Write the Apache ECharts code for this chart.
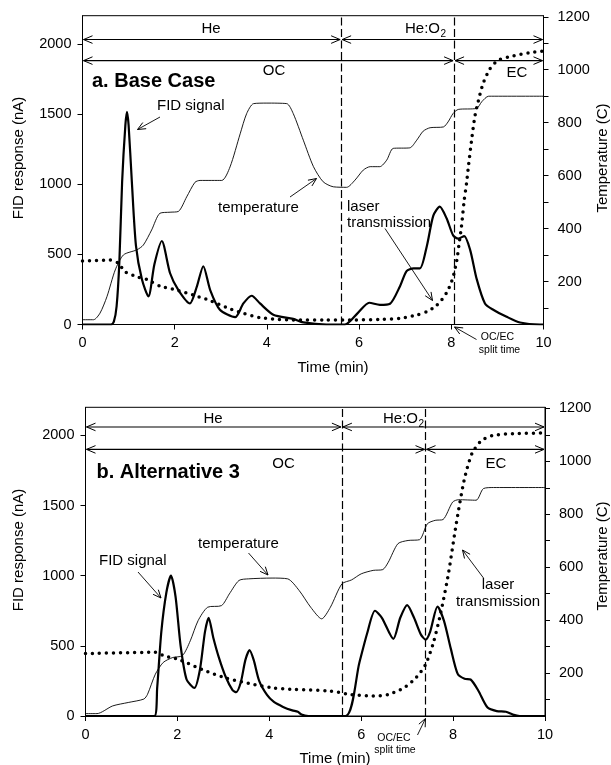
<!DOCTYPE html>
<html><head><meta charset="utf-8">
<script src="https://cdn.jsdelivr.net/npm/echarts@6/dist/echarts.min.js"></script>
<style>html,body{margin:0;padding:0;background:#fff;}#c{width:611px;height:765px;}</style>
</head><body><div id="c"></div>
<script>
// ---------- DATA ----------
const xTicks = [0, 2, 4, 6, 8, 10];
const fidTicks = [0, 500, 1000, 1500, 2000];
const tempTicks = [100, 200, 300, 400, 500, 600, 700, 800, 900, 1000, 1100, 1200];
const tempLabels = [200, 400, 600, 800, 1000, 1200];

// Panel a. Base Case
const fidTimeA = [0,0.62,0.68,0.74,0.80,0.86,0.93,0.965,1.0,1.07,1.16,1.29,1.43,1.56,1.72,1.90,2.08,2.33,2.48,2.62,2.77,2.98,3.31,3.49,3.67,3.85,4.14,4.57,4.79,5.29,5.69,5.98,6.22,6.45,6.67,6.89,7.03,7.18,7.32,7.47,7.61,7.75,7.90,8.04,8.15,8.28,8.41,8.55,8.73,8.91,9.20,9.49,9.92,10];
const fidValA  = [0,0,20,130,450,1020,1420,1515,1420,1020,560,320,200,430,595,365,245,150,270,415,245,105,52,150,205,150,70,40,15,0,0,85,155,140,148,275,380,400,400,560,775,840,755,635,612,630,530,325,150,105,55,14,0,0];
const tempTimeA = [0,0.24,0.38,0.53,0.71,0.89,1.18,1.32,1.50,1.68,1.90,2.08,2.26,2.44,2.55,3.02,3.20,3.42,3.56,3.71,4.0,4.43,4.57,4.79,5.01,5.22,5.44,5.73,5.91,6.09,6.24,6.45,6.60,6.74,7.10,7.25,7.39,7.54,7.83,7.93,8.04,8.15,8.55,8.66,8.81,10];
const tempValA  = [56,56,81,143,244,301,320,338,395,458,462,465,520,575,582,582,633,758,834,872,874,872,835,734,634,577,558,556,583,621,634,634,659,703,705,734,768,781,784,803,835,850,854,879,900,900];
const laserTimeA = [0,0.6,0.78,0.92,1.18,1.39,1.68,2.04,2.40,2.77,3.13,3.49,3.85,4.21,4.57,5.29,5.80,6.52,6.89,7.25,7.47,7.65,7.79,7.93,8.04,8.12,8.17,8.22,8.28,8.33,8.37,8.44,8.51,8.59,8.69,8.84,9.02,9.35,9.71,10];
const laserValA  = [452,459,436,376,340,322,274,246,210,170,120,80,49,37,32,32,32,37,44,68,91,127,174,246,340,459,578,697,886,1005,1123,1313,1479,1598,1717,1823,1883,1913,1937,1949];
const splitA = [5.61, 8.06];
const arrowLevelsA = [2030, 1880];

// Panel b. Alternative 3
const fidTimeB = [0,1.5,1.56,1.65,1.76,1.86,1.96,2.07,2.20,2.37,2.49,2.60,2.68,2.78,2.90,3.05,3.20,3.28,3.38,3.48,3.57,3.66,3.78,3.95,4.10,4.30,4.50,4.62,4.70,4.85,5.66,5.96,6.13,6.30,6.45,6.70,6.85,7.00,7.15,7.30,7.40,7.50,7.66,7.80,7.95,8.10,8.25,8.38,8.55,8.75,8.95,9.15,9.30,9.45,10];
const fidValB  = [0,0,200,600,880,1000,850,500,260,200,330,600,700,560,420,280,185,170,240,400,470,400,250,150,100,65,40,30,10,0,0,380,590,750,700,550,700,790,700,580,545,600,780,680,480,300,265,260,180,60,35,30,10,0,0];
const tempTimeB = [0,0.25,0.59,0.93,1.27,1.35,1.52,1.69,1.90,2.11,2.28,2.45,2.66,2.96,3.13,3.34,3.55,4.06,4.40,4.65,4.90,5.14,5.33,5.58,5.79,6.00,6.26,6.47,6.59,6.80,7.02,7.27,7.44,7.61,7.78,7.99,8.12,8.50,8.66,8.88,10];
const tempValB  = [47,47,76,89,102,120,196,240,259,266,322,398,449,455,499,550,556,559,556,512,449,405,449,537,552,575,588,591,619,689,701,704,764,777,780,846,855,853,897,901,901];
const laserTimeB = [0,1.52,1.69,2.03,2.54,3.04,3.55,4.06,4.56,5.33,5.75,6.26,6.59,6.93,7.19,7.40,7.57,7.73,7.90,8.07,8.24,8.41,8.62,8.88,9.30,10];
const laserValB  = [445,454,431,402,331,272,232,201,189,178,154,142,154,201,272,367,521,734,1018,1373,1680,1870,1964,2000,2012,2017];
const splitB = [5.58, 7.40];
const arrowLevelsB = [2060, 1900];

// ---------- CHART ----------
const FONT = '"Liberation Sans", Arial, sans-serif';
const zip = (a, b) => a.map((v, i) => [v, b[i]]);
const chart = echarts.init(document.getElementById('c'), null, {renderer: 'canvas'});

const grids = [
  {left: 82.5, top: 15.7, width: 461, height: 308.8},
  {left: 85.5, top: 407.3, width: 459.5, height: 308.7}
];
const plain = v => String(v);

function xAx(gi) {
  return {type: 'value', gridIndex: gi, min: 0, max: 10,
    axisLine: {lineStyle: {color: '#000', width: 1}},
    axisTick: {length: 5, customValues: xTicks, lineStyle: {color: '#000'}},
    axisLabel: {color: '#000', fontSize: 14.5, fontFamily: FONT, margin: 11, customValues: xTicks, formatter: plain},
    splitLine: {show: false}};
}
function yLeft(gi) {
  return {type: 'value', gridIndex: gi, position: 'left', min: 0, max: 2200,
    axisLine: {show: true, lineStyle: {color: '#000', width: 1}},
    axisTick: {show: true, length: 5, customValues: fidTicks, lineStyle: {color: '#000'}},
    axisLabel: {color: '#000', fontSize: 14.5, fontFamily: FONT, margin: 11, customValues: fidTicks, formatter: plain},
    splitLine: {show: false}};
}
function yRight(gi) {
  return {type: 'value', gridIndex: gi, position: 'right', min: 38, max: 1204,
    axisLine: {show: true, lineStyle: {color: '#000', width: 1}},
    axisTick: {show: true, length: 5, customValues: tempTicks, lineStyle: {color: '#000'}},
    axisLabel: {color: '#000', fontSize: 14.5, fontFamily: FONT, margin: 14, customValues: tempLabels, formatter: plain},
    splitLine: {show: false}};
}

function splitMark(splits) {
  return {symbol: 'none', silent: true, animation: false, label: {show: false},
    lineStyle: {type: [8, 3.5], color: '#000', width: 1.2},
    data: splits.map(s => ({xAxis: s}))};
}

function fidSeries(gi, yi, t, v, splits) {
  return {type: 'line', xAxisIndex: gi, yAxisIndex: yi, data: zip(t, v), showSymbol: false,
    smooth: 0.25, lineStyle: {color: '#000', width: 2.2}, z: 4,
    markLine: splitMark(splits)};
}
function tempSeries(gi, yi, t, v) {
  return {type: 'line', xAxisIndex: gi, yAxisIndex: yi, data: zip(t, v), showSymbol: false,
    smooth: 0.25, lineStyle: {color: '#000', width: 0.9}, z: 3};
}
function laserSeries(gi, yi, t, v) {
  return {type: 'line', xAxisIndex: gi, yAxisIndex: yi, data: zip(t, v), showSymbol: false,
    smooth: 0.25, lineStyle: {color: '#000', width: 3.5, type: [0, 7], cap: 'round'}, z: 3};
}

chart.setOption({
  animation: false,
  backgroundColor: '#fff',
  grid: grids.map(g => Object.assign({show: true, borderColor: '#000', borderWidth: 1, containLabel: false, outerBoundsMode: 'none'}, g)),
  xAxis: [xAx(0), xAx(1)],
  yAxis: [yLeft(0), yRight(0), yLeft(1), yRight(1)],
  series: [
    tempSeries(0, 1, tempTimeA, tempValA),
    laserSeries(0, 0, laserTimeA, laserValA),
    fidSeries(0, 0, fidTimeA, fidValA, splitA),
    tempSeries(1, 3, tempTimeB, tempValB),
    laserSeries(1, 2, laserTimeB, laserValB),
    fidSeries(1, 2, fidTimeB, fidValB, splitB)
  ]
});

// ---------- ANNOTATIONS ----------
const G = [];
function txt(s, x, y, opt) {
  opt = opt || {};
  const el = {type: 'text', x: x, y: y, rotation: opt.rot || 0, z: 10,
    style: {text: s, x: 0, y: 0, fill: '#000',
      font: (opt.bold ? 'bold ' : '') + (opt.size || 15) + 'px ' + FONT,
      align: opt.align || 'left', textAlign: opt.align || 'left',
      verticalAlign: 'middle', textVerticalAlign: 'middle'}};
  G.push(el);
}
function head(x, y, dx, dy, L, w) {
  const n = Math.hypot(dx, dy); dx /= n; dy /= n;
  const px = -dy, py = dx;
  G.push({type: 'polyline', z: 10, shape: {points: [[x - L*dx + w*px, y - L*dy + w*py], [x, y], [x - L*dx - w*px, y - L*dy - w*py]]},
    style: {stroke: '#000', lineWidth: 1, fill: null}});
}
function arrow(x1, y1, x2, y2) {
  G.push({type: 'line', z: 10, shape: {x1: x1, y1: y1, x2: x2, y2: y2}, style: {stroke: '#000', lineWidth: 0.9}});
  head(x2, y2, x2 - x1, y2 - y1, 8, 3.5);
}
function dbl(x1, x2, y) {
  G.push({type: 'line', z: 10, shape: {x1: x1, y1: y, x2: x2, y2: y}, style: {stroke: '#000', lineWidth: 1.1}});
  head(x1, y, -1, 0, 9, 3.8);
  head(x2, y, 1, 0, 9, 3.8);
}
const X = (gi, t) => chart.convertToPixel({xAxisIndex: gi}, t);
const Y = (yi, v) => chart.convertToPixel({yAxisIndex: yi}, v);

[[0, 0, splitA, arrowLevelsA], [1, 2, splitB, arrowLevelsB]].forEach(([gi, yi, sp, lv]) => {
  const x0 = X(gi, 0), x10 = X(gi, 10), s1 = X(gi, sp[0]), s2 = X(gi, sp[1]);
  const yHe = Y(yi, lv[0]), yOC = Y(yi, lv[1]);
  dbl(x0 + 1, s1 - 1, yHe); dbl(s1 + 1, x10 - 1, yHe);
  dbl(x0 + 1, s2 - 1, yOC); dbl(s2 + 1, x10 - 1, yOC);
});

// Panel a texts
txt('He', 211, 29, {align: 'center'});
txt('He:O', 440, 29, {align: 'right'});
txt('2', 440.5, 34, {size: 10});
txt('OC', 274, 71, {align: 'center'});
txt('EC', 517, 73, {align: 'center'});
txt('a. Base Case', 92, 81, {bold: true, size: 20});
txt('FID signal', 157, 106);
arrow(160, 117, 137.5, 129.5);
txt('temperature', 218, 208);
arrow(290, 197, 316.5, 178.5);
txt('laser', 347, 207);
txt('transmission', 347, 223);
arrow(385, 228.5, 432.5, 300.5);
txt('OC/EC', 497.5, 337, {align: 'center', size: 10.5});
txt('split time', 499.5, 350, {align: 'center', size: 10.5});
arrow(476.5, 339.5, 454.5, 327);
txt('Time (min)', 333, 368, {align: 'center'});
txt('FID response (nA)', 19, 158, {align: 'center', rot: Math.PI / 2});
txt('Temperature (C)', 603, 158, {align: 'center', rot: Math.PI / 2});

// Panel b texts
txt('He', 213, 419, {align: 'center'});
txt('He:O', 418, 419, {align: 'right'});
txt('2', 418.5, 424, {size: 10});
txt('OC', 283.5, 464, {align: 'center'});
txt('EC', 496, 464, {align: 'center'});
txt('b. Alternative 3', 96.5, 472, {bold: true, size: 20});
txt('temperature', 198, 544);
arrow(248.5, 553, 268, 575);
txt('FID signal', 99, 561);
arrow(138, 572, 161, 598);
txt('laser', 498, 585, {align: 'center'});
txt('transmission', 498, 602, {align: 'center'});
arrow(483.5, 578, 462.5, 550);
txt('OC/EC', 394, 738, {align: 'center', size: 10.5});
txt('split time', 395, 750, {align: 'center', size: 10.5});
arrow(417.5, 735, 425.5, 718.5);
txt('Time (min)', 335, 759, {align: 'center'});
txt('FID response (nA)', 19, 550, {align: 'center', rot: Math.PI / 2});
txt('Temperature (C)', 603, 556, {align: 'center', rot: Math.PI / 2});

chart.setOption({graphic: {elements: G}});
</script>
</body></html>
